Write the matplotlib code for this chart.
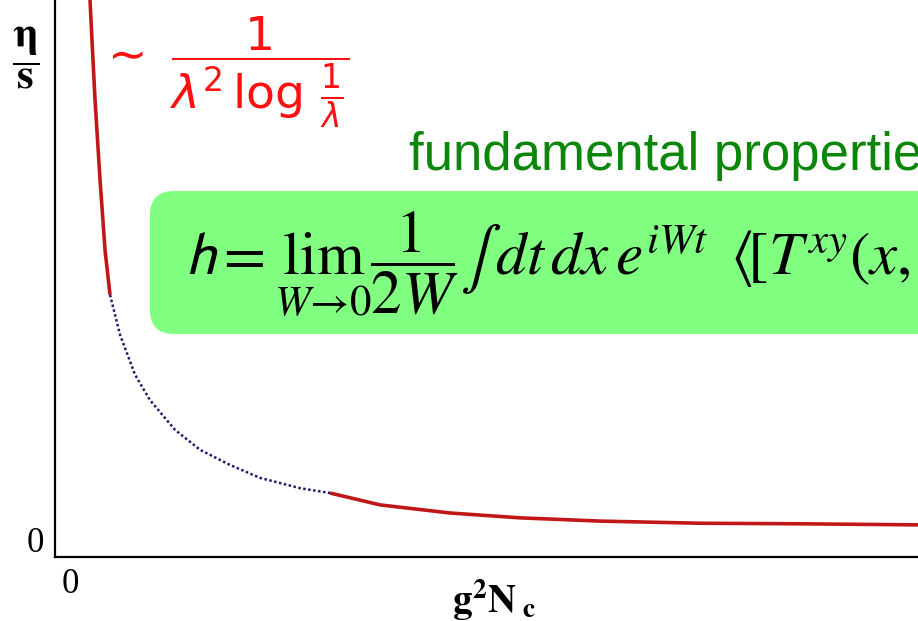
import matplotlib
matplotlib.use('Agg')
import matplotlib.pyplot as plt
from matplotlib.patches import FancyBboxPatch
from matplotlib.transforms import IdentityTransform

# curve (x = g^2 N_c, y = eta/s, arbitrary units)
steep_x = [0.236, 0.259, 0.295, 0.354, 0.413, 0.472]
steep_y = [10.0, 9.26, 8.15, 6.67, 5.37, 4.54]

dotted_x = [0.472, 0.590, 0.767, 0.943, 1.238, 1.533, 1.887, 2.241, 2.712, 3.066]
dotted_y = [4.54, 3.80, 3.06, 2.59, 2.04, 1.67, 1.39, 1.15, 0.96, 0.87]

tail_x = [3.066, 3.656, 4.481, 5.307, 6.250, 7.429, 8.608, 10.0]
tail_y = [0.87, 0.65, 0.50, 0.41, 0.35, 0.31, 0.30, 0.28]

x_ticks = [0]
y_ticks = [0]
tick_labels = ['0']

W, H = 918, 621
plt.rcParams['mathtext.fontset'] = 'stix'
fig = plt.figure(figsize=(W / 100, H / 100), dpi=100)
ax = fig.add_axes([55 / W, 64 / H, 1 - 55 / W, 557 / H])

ax.plot(steep_x, steep_y, color='#c01818', lw=2.6, solid_capstyle='butt')
ax.plot(dotted_x, dotted_y, color='#1c1c6a', lw=1.8, linestyle=(0, (1, 1)))
ax.plot(tail_x, tail_y, color='#c01818', lw=2.6, solid_capstyle='butt')

ax.set_xlim(-0.177, 10.0)
ax.set_ylim(-0.315, 10.0)
for s in ['top', 'right']:
    ax.spines[s].set_visible(False)
for s in ['left', 'bottom']:
    ax.spines[s].set_linewidth(1.6)
ax.set_xticks(x_ticks)
ax.set_yticks(y_ticks)
ax.set_xticklabels(tick_labels, fontsize=25, family='Liberation Serif')
ax.set_yticklabels(tick_labels, fontsize=25, family='Liberation Serif')
ax.tick_params(length=0, pad=8)

# axis labels
fig.text(494 / W, 1 - 600 / H, r'$\mathbf{g}^{\mathbf{2}}\mathbf{N}_{\ \mathbf{c}}$',
         fontsize=28, ha='center', va='center')
fig.text(26 / W, 1 - 58 / H, r'$\mathbf{\dfrac{\eta}{s}}$', fontsize=31,
         ha='center', va='center')

# red asymptotic form
fig.text(98 / W, 1 - 72 / H, r'$\sim\ \dfrac{1}{\lambda^{2}\,\log\,\frac{1}{\lambda}}$',
         fontsize=34, color='#ff1010', ha='left', va='center',
         math_fontfamily='dejavusans')

# green heading
fig.text(409 / W, 1 - 170 / H, 'fundamental properties', fontsize=38,
         color='#0a870a', family='Liberation Sans', ha='left', va='baseline')

# green box with Kubo formula
box = FancyBboxPatch((150, H - 334), 900, 143, boxstyle='round,pad=0,rounding_size=24',
                     transform=IdentityTransform(), facecolor='#80ff80',
                     edgecolor='none', zorder=1)
fig.patches.append(box)
fig.text(185 / W, 1 - 274 / H,
         r'$\mathsf{h}{=}\lim_{W\to 0}\dfrac{1}{2W}\int\, dt\, dx\, e^{iWt}\ \langle\![T^{xy}(x,$',
         fontsize=44, color='black', ha='left', va='baseline',
         math_fontfamily='stix', zorder=2)

fig.savefig('out.png', dpi=100)
